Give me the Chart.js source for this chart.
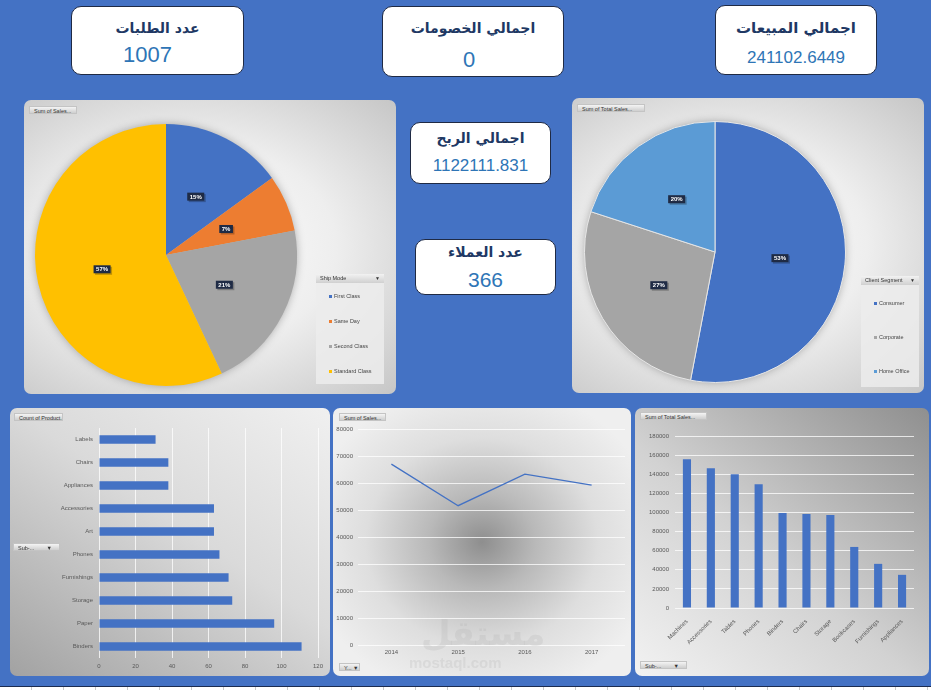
<!DOCTYPE html>
<html>
<head>
<meta charset="utf-8">
<script src="https://cdn.jsdelivr.net/npm/chart.js@4"></script>
<style>
body{margin:0;width:931px;height:690px;background:#4472C4;position:relative;overflow:hidden;font-family:"Liberation Sans",Arial,sans-serif;}
.card{position:absolute;background:#fff;border:1px solid #1f2a44;border-radius:10px;box-sizing:border-box;}
.card .t{position:absolute;left:0;right:0;text-align:center;font-family:"DejaVu Sans",sans-serif;font-weight:bold;color:#203864;direction:rtl;white-space:nowrap;}
.card .v{position:absolute;left:0;right:0;text-align:center;color:#2e75b6;white-space:nowrap;}
.panel{position:absolute;border-radius:7px;overflow:hidden;}
.panel canvas{position:absolute;left:0;top:0;}
.btn{position:absolute;height:8px;font-size:5.5px;line-height:8px;color:#333;padding-left:4px;box-sizing:border-box;background:linear-gradient(#f4f4f4,#cfcfcf);border:1px solid #c4c4c4;white-space:nowrap;overflow:hidden;}
.legend{position:absolute;background:rgba(236,236,236,0.85);}
.legend .hd{height:9px;background:linear-gradient(#f2f2f2,#d0d0d0);font-size:5.5px;line-height:9px;color:#333;padding-left:4px;position:relative;}
.legend .hd:after{content:"\25BC";position:absolute;right:4px;top:0;font-size:5px;}
.legend .it{position:absolute;font-size:5.5px;color:#444;white-space:nowrap;}
.legend .it i{display:inline-block;width:3px;height:3px;margin-right:2px;vertical-align:middle;}
.wm{position:absolute;color:rgba(175,175,175,0.22);font-weight:bold;white-space:nowrap;}
</style>
</head>
<body>

<div class="card" style="left:71px;top:6px;width:173px;height:69px;">
  <div class="t" style="top:13px;font-size:14px;">عدد الطلبات</div>
  <div class="v" style="top:35px;font-size:22px;padding-right:20px;">1007</div>
</div>
<div class="card" style="left:382px;top:6px;width:182px;height:71px;">
  <div class="t" style="top:13px;font-size:14px;">اجمالي الخصومات</div>
  <div class="v" style="top:40px;font-size:22px;padding-right:8px;">0</div>
</div>
<div class="card" style="left:715px;top:5px;width:162px;height:70px;">
  <div class="t" style="top:13px;font-size:15px;">اجمالي المبيعات</div>
  <div class="v" style="top:42px;font-size:17px;">241102.6449</div>
</div>
<div class="card" style="left:410px;top:122px;width:141px;height:62px;">
  <div class="t" style="top:7px;font-size:14px;">اجمالي الربح</div>
  <div class="v" style="top:33px;font-size:17px;">1122111.831</div>
</div>
<div class="card" style="left:415px;top:239px;width:141px;height:56px;">
  <div class="t" style="top:4px;font-size:14px;">عدد العملاء</div>
  <div class="v" style="top:28px;font-size:21px;">366</div>
</div>

<div class="panel" id="p1" style="left:24px;top:100px;width:372px;height:294px;background:radial-gradient(ellipse at 45% 50%,#ffffff 0%,#eeeeee 50%,#c6c6c6 100%);">
  <canvas id="pie1" width="372" height="294"></canvas>
  <div class="btn" style="left:5px;top:6px;width:48px;">Sum of Sales...</div>
  <div class="legend" id="leg1" style="left:292px;top:174px;width:68px;height:110px;"></div>
</div>

<div class="panel" id="p2" style="left:572px;top:98px;width:352px;height:295px;background:radial-gradient(ellipse at 45% 50%,#ffffff 0%,#eeeeee 50%,#c6c6c6 100%);">
  <canvas id="pie2" width="352" height="295"></canvas>
  <div class="btn" style="left:5px;top:6px;width:68px;">Sum of Total Sales...</div>
  <div class="legend" id="leg2" style="left:289px;top:178px;width:58px;height:111px;"></div>
</div>

<div class="panel" style="left:10px;top:408px;width:320px;height:268px;background:linear-gradient(215deg,#f0f0f0 0%,#dadada 45%,#a2a2a2 100%);">
  <canvas id="barA" width="320" height="268"></canvas>
  <div class="btn" style="left:4px;top:5px;width:49px;">Count of Product...</div>
  <div class="btn" style="left:3px;top:135px;width:47px;">Sub-... &nbsp;&nbsp;&nbsp;&nbsp;&nbsp;&nbsp;&nbsp;&#9660;</div>
</div>

<div class="panel" style="left:333px;top:408px;width:298px;height:268px;background:radial-gradient(ellipse 60% 60% at 50% 50%,#8e8e8e 0%,#b9b9b9 30%,#dedede 65%,#efefef 100%);">
  <canvas id="lineB" width="298" height="268"></canvas>
  <div class="btn" style="left:6px;top:5px;width:47px;">Sum of Sales...</div>
  <div class="btn" style="left:6px;top:255px;width:21px;">Y... &#9660;</div>
  <div class="wm" style="left:88px;top:205px;font-size:34px;font-family:'DejaVu Sans';">مستقل</div>
  <div class="wm" style="left:76px;top:246px;font-size:15px;">mostaql.com</div>
</div>

<div class="panel" style="left:635px;top:408px;width:294px;height:268px;background:linear-gradient(40deg,#f2f2f2 0%,#d2d2d2 45%,#8f8f8f 100%);">
  <canvas id="barC" width="294" height="268"></canvas>
  <div class="btn" style="left:5px;top:4px;width:67px;">Sum of Total Sales...</div>
  <div class="btn" style="left:5px;top:253px;width:47px;">Sub-... &nbsp;&nbsp;&nbsp;&nbsp;&nbsp;&nbsp;&nbsp;&#9660;</div>
</div>

<div style="position:absolute;left:0;top:686px;width:931px;height:1px;background:#1c2c50;"></div>
<div style="position:absolute;left:0;top:687px;width:931px;height:3px;background:repeating-linear-gradient(90deg,#fff 0,#fff 31px,#c8c8c8 31px,#c8c8c8 32px);"></div>

<script>
// pie 1 - ship mode
var shipModes = ['First Class', 'Same Day', 'Second Class', 'Standard Class'];
var shipShare = [15, 7, 21, 57];
var shipColors = ['#4472C4', '#ED7D31', '#A5A5A5', '#FFC000'];

// pie 2 - client segment
var segments = ['Consumer', 'Corporate', 'Home Office'];
var segmentShare = [53, 27, 20];
var segmentColors = ['#4472C4', '#A5A5A5', '#5B9BD5'];

// count of product by sub category
var productSubs = ['Labels', 'Chairs', 'Appliances', 'Accessories', 'Art', 'Phones', 'Furnishings', 'Storage', 'Paper', 'Binders'];
var productCounts = [31, 38, 38, 63, 63, 66, 71, 73, 96, 111];
var countTicks = [0, 120, 20];

// sum of sales by year
var years = ['2014', '2015', '2016', '2017'];
var yearSales = [67000, 51600, 63300, 59200];
var yearTicks = [0, 80000, 10000];

// sum of total sales by sub category
var salesSubs = ['Machines', 'Accessories', 'Tables', 'Phones', 'Binders', 'Chairs', 'Storage', 'Bookcases', 'Furnishings', 'Appliances'];
var subSales = [155700, 146300, 140000, 129600, 99400, 98300, 97300, 63900, 46200, 34700];
var subTicks = [0, 180000, 20000];

var tickFont = { family: 'Liberation Sans', size: 6 };
var tickColor = '#595959';
var gridWhite = 'rgba(255,255,255,0.75)';
var plainNum = function(v) { return String(v); };

// shadow under the pie + percent boxes
var pieDecor = {
    id: 'pieDecor',
    beforeDatasetsDraw: function(chart) {
        var arc = chart.getDatasetMeta(0).data[0];
        var ctx = chart.ctx;
        ctx.save();
        ctx.shadowColor = 'rgba(0,0,0,0.35)';
        ctx.shadowBlur = 10;
        ctx.fillStyle = '#bbb';
        ctx.beginPath();
        ctx.arc(arc.x, arc.y, arc.outerRadius - 1, 0, Math.PI * 2);
        ctx.fill();
        ctx.restore();
    },
    afterDatasetsDraw: function(chart) {
        var ctx = chart.ctx;
        var vals = chart.data.datasets[0].data;
        var total = vals.reduce(function(a, b) { return a + b; }, 0);
        ctx.save();
        ctx.font = 'bold 6px "Liberation Sans"';
        ctx.textAlign = 'center';
        ctx.textBaseline = 'middle';
        chart.getDatasetMeta(0).data.forEach(function(arc, i) {
            var p = arc.tooltipPosition();
            var txt = Math.round(vals[i] / total * 100) + '%';
            var w = ctx.measureText(txt).width + 5;
            ctx.fillStyle = 'rgba(0,0,0,0.25)';
            ctx.fillRect(p.x - w / 2 + 1.5, p.y - 4 + 1.5, w, 8);
            ctx.fillStyle = '#1f2b45';
            ctx.fillRect(p.x - w / 2, p.y - 4, w, 8);
            ctx.fillStyle = '#fff';
            ctx.fillText(txt, p.x, p.y + 0.5);
        });
        ctx.restore();
    }
};

function pieChart(id, labels, values, colors, pad, border) {
    return new Chart(document.getElementById(id), {
        type: 'pie',
        data: {
            labels: labels,
            datasets: [{ data: values, backgroundColor: colors, borderWidth: border, borderColor: '#e6e6e6' }]
        },
        options: {
            responsive: false,
            animation: false,
            layout: { padding: pad },
            plugins: { legend: { display: false }, tooltip: { enabled: false } }
        },
        plugins: [pieDecor]
    });
}

function buildLegend(id, title, labels, colors, ys) {
    var el = document.getElementById(id);
    var html = '<div class="hd">' + title + '</div>';
    labels.forEach(function(l, i) {
        html += '<div class="it" style="left:13px;top:' + ys[i] + 'px;"><i style="background:' + colors[i] + '"></i>' + l + '</div>';
    });
    el.innerHTML = html;
}

pieChart('pie1', shipModes, shipShare, shipColors, { left: 11, top: 24, right: 99, bottom: 8 }, 0);
pieChart('pie2', segments, segmentShare, segmentColors, { left: 12, top: 23, right: 78, bottom: 10 }, 1);
buildLegend('leg1', 'Ship Mode', shipModes, shipColors, [19, 44, 69, 94]);
buildLegend('leg2', 'Client Segment', segments, segmentColors, [24, 58, 92]);

new Chart(document.getElementById('barA'), {
    type: 'bar',
    data: {
        labels: productSubs,
        datasets: [{ data: productCounts, backgroundColor: '#4472C4', categoryPercentage: 1, barPercentage: 0.36 }]
    },
    options: {
        indexAxis: 'y',
        responsive: false,
        animation: false,
        layout: { padding: { top: 20, right: 12, left: 0, bottom: 0 } },
        plugins: { legend: { display: false }, tooltip: { enabled: false } },
        scales: {
            x: {
                min: countTicks[0], max: countTicks[1],
                ticks: { stepSize: countTicks[2], font: tickFont, color: tickColor, padding: 5 },
                grid: { color: gridWhite, drawTicks: false },
                border: { display: false },
                afterFit: function(s) { s.height = 18; }
            },
            y: {
                ticks: { font: tickFont, color: tickColor, padding: 6 },
                grid: { display: false, drawTicks: false },
                border: { display: false },
                afterFit: function(s) { s.width = 89; }
            }
        }
    }
});

new Chart(document.getElementById('lineB'), {
    type: 'line',
    data: {
        labels: years,
        datasets: [{ data: yearSales, borderColor: '#4472C4', borderWidth: 1.3, pointRadius: 0, fill: false, tension: 0 }]
    },
    options: {
        responsive: false,
        animation: false,
        layout: { padding: { top: 21, right: 6, left: 0, bottom: 0 } },
        plugins: { legend: { display: false }, tooltip: { enabled: false } },
        scales: {
            x: {
                offset: true,
                ticks: { font: tickFont, color: tickColor, padding: 4 },
                grid: { display: false, drawTicks: false },
                border: { display: false },
                afterFit: function(s) { s.height = 31; }
            },
            y: {
                min: yearTicks[0], max: yearTicks[1],
                ticks: { stepSize: yearTicks[2], font: tickFont, color: tickColor, padding: 5, callback: plainNum },
                grid: { color: gridWhite, drawTicks: false },
                border: { display: false },
                afterFit: function(s) { s.width = 25; }
            }
        }
    }
});

new Chart(document.getElementById('barC'), {
    type: 'bar',
    data: {
        labels: salesSubs,
        datasets: [{ data: subSales, backgroundColor: '#4472C4', categoryPercentage: 1, barPercentage: 0.34 }]
    },
    options: {
        responsive: false,
        animation: false,
        layout: { padding: { top: 28, right: 15, left: 0, bottom: 0 } },
        plugins: { legend: { display: false }, tooltip: { enabled: false } },
        scales: {
            x: {
                ticks: { font: tickFont, color: tickColor, minRotation: 45, maxRotation: 45, autoSkip: false, padding: 2 },
                grid: { display: false },
                border: { display: false },
                afterFit: function(s) { s.height = 68; }
            },
            y: {
                min: subTicks[0], max: subTicks[1],
                ticks: { stepSize: subTicks[2], font: tickFont, color: tickColor, padding: 6, callback: plainNum },
                grid: { color: gridWhite, drawTicks: false },
                border: { display: false },
                afterFit: function(s) { s.width = 40; }
            }
        }
    }
});
</script>
</body>
</html>
